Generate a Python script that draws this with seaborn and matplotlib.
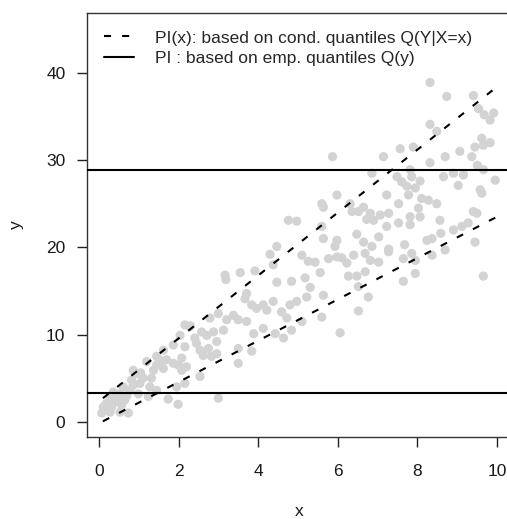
import numpy as np
import pandas as pd
import matplotlib
matplotlib.use("Agg")
import matplotlib.pyplot as plt
from matplotlib.lines import Line2D
import seaborn as sns

# ---- data ----
px = [8.32, 8.74, 9.41, 9.54, 9.68, 9.92, 9.83, 8.32, 8.49, 9.62, 9.66, 9.83, 9.45, 7.90, 7.57,
      7.15, 5.87, 8.32, 8.70, 9.07, 9.37, 9.51, 9.66, 9.96, 8.91, 9.16, 7.82, 7.49, 7.86, 8.07,
      7.95, 7.74, 8.66, 9.03, 9.58, 9.62, 6.86, 7.61, 7.23, 7.78, 8.11, 5.98, 5.60, 5.64, 6.31,
      6.36, 6.52, 6.65, 6.82, 7.07, 7.28, 7.53, 8.28, 8.49, 8.03, 7.82, 8.07, 9.41, 9.50, 6.90,
      6.73, 4.76, 4.97, 6.48, 7.23, 7.53, 7.82, 8.57, 8.91, 9.12, 9.28, 8.59, 8.37, 5.60, 5.64,
      5.98, 5.93, 6.65, 7.03, 6.86, 7.28, 7.68, 8.24, 9.45, 4.30, 7.86,
      5.10, 5.26, 5.43, 5.77, 5.98, 6.10, 6.23, 6.40, 6.69, 6.82, 7.03, 7.28, 7.65, 7.95, 8.37,
      8.70, 4.38, 3.55, 3.92, 3.17, 3.19, 5.56, 6.27, 6.48, 6.69, 7.95, 7.65, 9.66, 4.47, 4.84,
      5.18, 5.31, 6.52, 6.77, 5.64, 6.52, 5.60, 6.06, 5.10, 4.84, 4.64, 4.43, 4.13, 3.89, 3.84,
      3.50, 3.50, 3.71, 3.67, 3.38, 3.50, 3.71, 3.84, 3.96, 4.13, 4.22, 4.38, 4.59, 4.80, 4.97,
      5.22, 4.72, 3.21, 3.00, 2.79, 3.13, 2.88, 2.58, 2.16, 2.29, 2.04, 2.41, 2.71, 2.96, 2.54,
      2.75, 2.62, 2.83, 2.96, 1.87, 2.16, 1.62, 1.45, 1.70, 1.87, 2.08, 2.00, 2.20, 2.08, 2.54,
      2.16, 1.95, 1.45, 1.62, 1.37, 1.20, 1.32, 1.11, 0.95, 0.86, 0.82, 1.03, 1.28, 1.45, 0.99,
      0.78, 0.61, 0.53, 0.44, 0.28, 0.19, 0.11, 0.07, 0.32, 0.44, 0.57, 0.53, 0.74, 0.65, 0.28,
      1.74, 1.99, 3.00, 1.24, 0.36, 0.86, 4.47, 2.45, 2.30, 1.55, 1.05, 0.70, 0.15, 0.40]
py = [38.9, 37.3, 37.4, 35.9, 35.2, 35.4, 34.6, 34.1, 33.3, 32.5, 31.7, 32.0, 31.5, 31.5, 31.3,
      30.4, 30.4, 29.7, 30.4, 31.0, 30.4, 29.4, 28.9, 27.7, 28.5, 28.3, 28.9, 28.1, 28.1, 27.6,
      26.8, 27.0, 28.1, 27.1, 26.6, 26.2, 28.5, 27.5, 26.0, 26.0, 25.6, 26.0, 25.0, 24.6, 25.0,
      24.1, 24.1, 24.6, 23.9, 23.7, 23.9, 25.0, 25.4, 25.0, 24.5, 23.5, 23.5, 24.1, 23.9, 23.1,
      23.2, 23.1, 23.0, 21.5, 22.4, 22.8, 22.6, 23.1, 22.0, 22.4, 22.8, 21.6, 21.0, 22.4, 21.0,
      20.8, 20.1, 20.6, 21.2, 20.1, 19.8, 20.3, 20.8, 20.6, 19.2, 19.3,
      19.1, 18.4, 18.3, 18.7, 18.9, 18.8, 18.2, 19.1, 19.3, 18.5, 18.3, 19.5, 18.7, 18.5, 19.1,
      19.7, 18.0, 17.1, 17.3, 16.8, 16.3, 17.1, 16.7, 16.7, 17.2, 17.0, 16.1, 16.7, 16.0, 16.1,
      16.5, 15.4, 15.5, 14.3, 14.5, 12.7, 12.0, 10.2, 11.5, 10.5, 9.6, 10.1, 10.7, 10.1, 8.1,
      8.4, 6.7, 14.7, 14.1, 12.2, 11.7, 11.5, 13.4, 13.0, 13.4, 12.8, 13.8, 12.6, 13.4, 13.8,
      14.3, 11.9, 11.7, 12.4, 11.9, 10.5, 10.3, 10.3, 11.1, 10.9, 9.9, 9.6, 9.9, 9.2, 8.2,
      8.4, 7.6, 7.5, 7.8, 8.8, 8.6, 8.2, 7.5, 7.1, 6.7, 7.3, 6.5, 6.3, 5.9, 5.2,
      4.4, 4.0, 6.5, 6.1, 5.9, 6.9, 5.0, 5.0, 5.5, 5.9, 4.8, 4.4, 4.0, 3.6, 3.2,
      3.6, 4.0, 3.2, 2.9, 2.9, 2.1, 1.7, 1.0, 1.7, 2.3, 1.9, 1.1, 1.0, 2.5, 1.1,
      2.6, 2.0, 2.7, 2.9, 3.4, 4.2, 20.1, 9.0, 11.0, 7.0, 5.6, 3.0, 1.4, 2.4]

line_x = [0.1, 10.0]
pi_upper = [2.7, 38.4]
pi_lower = [0.05, 23.5]
pi_emp = [3.3, 28.9]

legend_labels = ["PI(x): based on cond. quantiles Q(Y|X=x)",
                 "PI : based on emp. quantiles Q(y)"]
x_ticks = [0, 2, 4, 6, 8, 10]
y_ticks = [0, 10, 20, 30, 40]

pts = pd.DataFrame({"x": px, "y": py})
lines = pd.DataFrame({"x": line_x * 2,
                      "y": pi_upper + pi_lower,
                      "b": ["upper"] * 2 + ["lower"] * 2})

# ---- styling ----
sns.set_style("ticks")
plt.rcParams["font.family"] = ["Liberation Sans", "DejaVu Sans"]
plt.rcParams["font.size"] = 12

DASH = (0, (3.4, 5.3))
fig = plt.figure(figsize=(5.07, 5.19), dpi=100)
ax = fig.add_axes([87 / 507, (519 - 437) / 519, (512 - 87) / 507, (437 - 13) / 519])

sns.scatterplot(data=pts, x="x", y="y", ax=ax, color="#d3d3d3", s=44,
                edgecolor="none", linewidth=0, zorder=1)
for b in ["upper", "lower"]:
    sns.lineplot(data=lines[lines.b == b], x="x", y="y", ax=ax, color="black",
                 linewidth=1.5, linestyle=DASH, zorder=3)
for v in pi_emp:
    ax.axhline(v, color="black", linewidth=1.5, zorder=3)

ax.set_xlim(-0.30, 10.38)
ax.set_ylim(-1.75, 46.87)
ax.set_xticks(x_ticks)
ax.set_yticks(y_ticks)
ax.tick_params(axis="both", direction="out", length=7.5, width=1.0, color="#222222",
               labelsize=12.5, labelcolor="#1a1a1a")
ax.tick_params(axis="x", pad=12)
ax.tick_params(axis="y", pad=8)
for s in ax.spines.values():
    s.set_visible(True)
    s.set_linewidth(1.0)
    s.set_color("#333333")
ax.set_xlabel("x", fontsize=12.5, labelpad=18, color="#1a1a1a")
ax.set_ylabel("y", fontsize=12.5, labelpad=16, color="#1a1a1a")

handles = [Line2D([], [], color="black", lw=1.5, linestyle=DASH),
           Line2D([], [], color="black", lw=1.5)]
ax.legend(handles, legend_labels, loc="upper left", frameon=False,
          bbox_to_anchor=(0.0, 1.0), handlelength=1.7, handletextpad=1.2,
          labelspacing=0.32, fontsize=12.5, borderaxespad=0.6)

fig.savefig("out.png", dpi=100)
